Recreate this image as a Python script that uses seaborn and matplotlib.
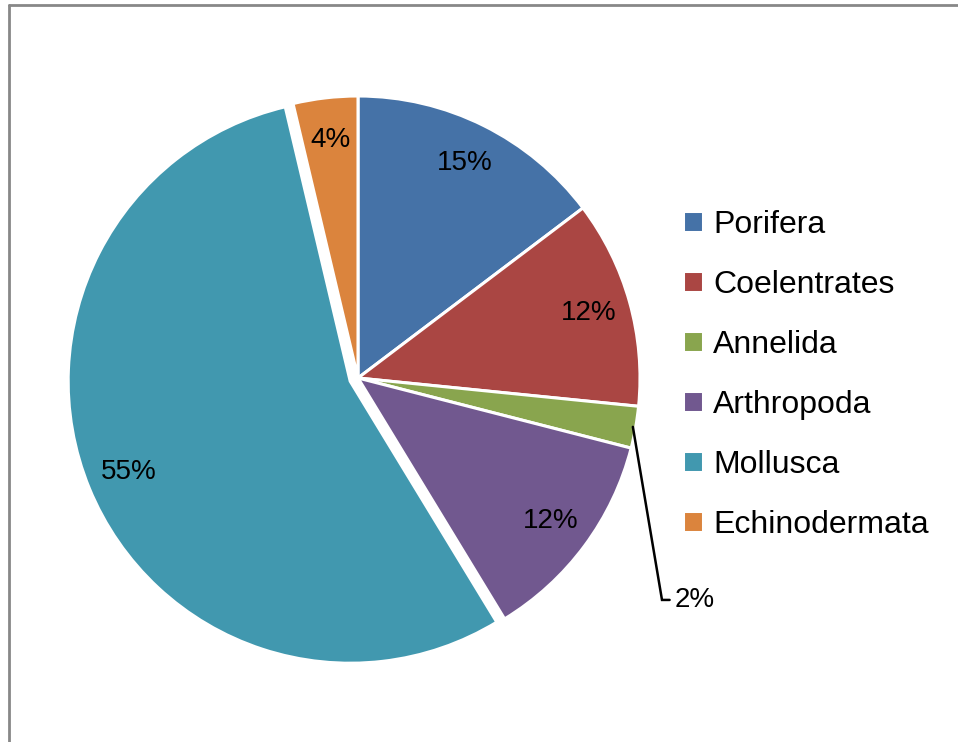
import numpy as np
import seaborn as sns
import matplotlib.pyplot as plt
from matplotlib.lines import Line2D

phyla = ['Porifera', 'Coelentrates', 'Annelida', 'Arthropoda', 'Mollusca', 'Echinodermata']
shares = [14.7, 11.9, 2.4, 12.3, 55.0, 3.7]
labels_pct = ['15%', '12%', '2%', '12%', '55%', '4%']
colors = ['#4572A7', '#AA4643', '#89A54E', '#71588F', '#4198AF', '#DB843D']
explode = [0, 0, 0, 0, 0.03, 0]

sns.set_style('white')
plt.rcParams['font.family'] = ['Liberation Sans', 'DejaVu Sans']
plt.rcParams['text.color'] = 'black'

fig = plt.figure(figsize=(9.58, 7.42), dpi=100)
# pie centre at ~(358, 378) px, radius ~282 px
W, H = 958, 742
cx, cy, r = 358, 378, 282
half = 300
ax = fig.add_axes([(cx - half) / W, (H - cy - half) / H, 2 * half / W, 2 * half / H])
lim = half / r

wedges, texts = ax.pie(shares, colors=colors, startangle=90, counterclock=False,
                       explode=explode, radius=1,
                       wedgeprops=dict(edgecolor='white', linewidth=2.2))
ax.set_xlim(-lim, lim)
ax.set_ylim(-lim, lim)
ax.set_aspect('equal')
ax.axis('off')

# percentage labels inside, the small one outside with a leader line
for w, lab in zip(wedges, labels_pct):
    ang = np.deg2rad((w.theta1 + w.theta2) / 2)
    cxw, cyw = w.center
    if lab == '2%':
        x0, y0 = cxw + np.cos(ang) * 0.99, cyw + np.sin(ang) * 0.99
        ax.plot([x0, 1.078, 1.105], [y0, -0.787, -0.787], color='black', lw=1.8,
                solid_joinstyle='miter', clip_on=False)
        ax.text(1.122, -0.787, lab, ha='left', va='center', fontsize=20)
    else:
        ax.text(cxw + np.cos(ang) * 0.85, cyw + np.sin(ang) * 0.85, lab,
                ha='center', va='center', fontsize=20)

leg = fig.legend(wedges, phyla, loc='center left', bbox_to_anchor=(683 / W, 1 - 375 / H),
                 frameon=False, fontsize=23, handlelength=0.63, handleheight=0.63,
                 handletextpad=0.31, labelspacing=0.94, borderaxespad=0, borderpad=0)

# outer frame (only left and top edges visible)
fig.add_artist(Line2D([9 / W, 9 / W], [0, 1 - 5 / H], color='#888888', lw=2))
fig.add_artist(Line2D([9 / W, 1], [1 - 5 / H, 1 - 5 / H], color='#888888', lw=2))

fig.savefig('out.png', dpi=100)
